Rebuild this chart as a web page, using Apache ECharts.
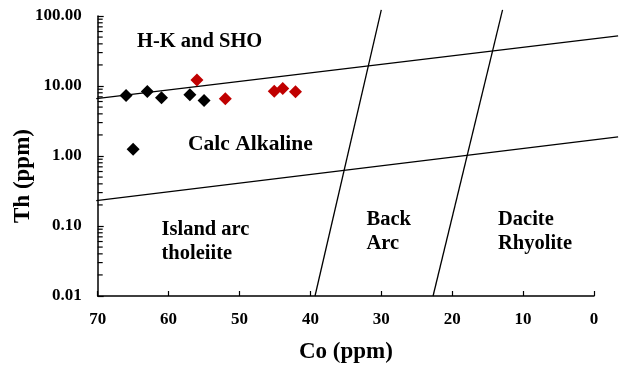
<!DOCTYPE html>
<html>
<head>
<meta charset="utf-8">
<script src="https://cdn.jsdelivr.net/npm/echarts@6/dist/echarts.min.js"></script>
<style>html,body{margin:0;padding:0;background:#fff}#c{width:619px;height:369px}</style>
</head>
<body>
<div id="c"></div>
<script>
// ---- data ----
const xTicks = [70, 60, 50, 40, 30, 20, 10, 0];
const yTicks = [0.01, 0.1, 1, 10, 100];
const blackCo = [66.0, 63.0, 61.0, 57.0, 55.0, 65.0];
const blackTh = [7.3, 8.35, 6.8, 7.5, 6.2, 1.25];
const redCo = [56.0, 52.0, 45.1, 43.9, 42.1];
const redTh = [12.2, 6.6, 8.4, 9.2, 8.3];
// boundary lines [Co1, Th1, Co2, Th2]
const lineHK_CA = [70.2, 6.58, -3.4, 52.1];
const lineCA_IAT = [70.2, 0.231, -3.4, 1.87];
const lineCA_BA = [39.35, 0.01, 30.0, 122];
const lineBA_DR = [22.7, 0.01, 12.9, 122];
const regionLabels = ['H-K and SHO', 'Calc Alkaline', 'Island arc\ntholeiite', 'Back\nArc', 'Dacite\nRhyolite'];
const minorMultipliers = [2, 3, 4, 5, 6, 7, 8, 9];

const X_MIN = 0, X_MAX = 70;
const minorVals = [];
for (let i = 0; i < yTicks.length - 1; i++) {
  minorMultipliers.forEach(m => minorVals.push(yTicks[i] * m));
}
const boundaries = [lineHK_CA, lineCA_IAT, lineCA_BA, lineBA_DR];

const FONT = "'Liberation Serif', 'Times New Roman', serif";
const chart = echarts.init(document.getElementById('c'), null, {renderer: 'canvas'});

// x pixel by linear extrapolation from two in-range axis coords (axis may clamp)
function xPix(api, co) {
  const a = api.coord([X_MIN, 1])[0];
  const b = api.coord([X_MAX, 1])[0];
  return a + (co - X_MIN) * (b - a) / (X_MAX - X_MIN);
}
function yPix(api, th) {
  return api.coord([X_MAX / 2, th])[1];
}

const labelFont = 'bold 20.5px ' + FONT;

chart.setOption({
  animation: false,
  backgroundColor: '#fff',
  grid: {left: 97.7, right: 25, top: 16, bottom: 71.3, containLabel: false},
  xAxis: {
    type: 'value', inverse: true, min: X_MIN, max: X_MAX, interval: 10,
    splitLine: {show: false},
    axisLine: {lineStyle: {color: '#000', width: 1.5}},
    axisTick: {inside: true, length: 5, lineStyle: {color: '#000', width: 1.2}},
    axisLabel: {margin: 15, color: '#000', fontFamily: FONT, fontWeight: 'bold', fontSize: 17,
      formatter: v => xTicks.includes(v) ? String(v) : ''},
    name: 'Co (ppm)', nameLocation: 'middle', nameGap: 45,
    nameTextStyle: {color: '#000', fontFamily: FONT, fontWeight: 'bold', fontSize: 23}
  },
  yAxis: {
    type: 'log', logBase: 10, min: 0.01, max: 100,
    splitLine: {show: false},
    axisLine: {onZero: false, lineStyle: {color: '#000', width: 1.5}},
    axisTick: {inside: true, length: 6, lineStyle: {color: '#000', width: 1.2}},
    axisLabel: {margin: 16, color: '#000', fontFamily: FONT, fontWeight: 'bold', fontSize: 17,
      formatter: v => Number(v).toFixed(2)}
  },
  graphic: [
    {type: 'text', x: 23, y: 176, rotation: Math.PI / 2,
      style: {text: 'Th (ppm)', align: 'center', verticalAlign: 'middle', fill: '#000',
        font: "bold 23px " + FONT}},
    {type: 'text', x: 137, y: 41.5, style: {text: regionLabels[0], verticalAlign: 'middle', fill: '#000', font: labelFont}},
    {type: 'text', x: 188, y: 144, style: {text: regionLabels[1], verticalAlign: 'middle', fill: '#000', font: 'bold 21.5px ' + FONT}},
    {type: 'text', x: 161.5, y: 217, style: {text: regionLabels[2], verticalAlign: 'top', lineHeight: 24.5, fill: '#000', font: labelFont}},
    {type: 'text', x: 366.5, y: 208, style: {text: regionLabels[3], verticalAlign: 'top', lineHeight: 24, fill: '#000', font: labelFont}},
    {type: 'text', x: 498, y: 208, style: {text: regionLabels[4], verticalAlign: 'top', lineHeight: 24, fill: '#000', font: labelFont}}
  ],
  series: [
    {
      type: 'custom', silent: true, clip: false, z: 3,
      data: boundaries,
      renderItem: (params, api) => {
        return {type: 'line',
          shape: {x1: xPix(api, api.value(0)), y1: yPix(api, api.value(1)),
                  x2: xPix(api, api.value(2)), y2: yPix(api, api.value(3))},
          style: {stroke: '#000', lineWidth: 1.3}};
      },
      encode: {x: [0, 2], y: [1, 3]}
    },
    {
      type: 'custom', silent: true, clip: false, z: 4,
      data: minorVals.map(v => [X_MAX, v]),
      renderItem: (params, api) => {
        const p = api.coord([api.value(0), api.value(1)]);
        return {type: 'line', shape: {x1: p[0], y1: p[1], x2: p[0] + 5, y2: p[1]},
          style: {stroke: '#000', lineWidth: 1.2}};
      }
    },
    {type: 'scatter', symbol: 'diamond', symbolSize: 13, z: 5,
      itemStyle: {color: '#000', opacity: 1}, data: blackCo.map((c, i) => [c, blackTh[i]])},
    {type: 'scatter', symbol: 'diamond', symbolSize: 13, z: 5,
      itemStyle: {color: '#C00000', opacity: 1}, data: redCo.map((c, i) => [c, redTh[i]])}
  ]
});
</script>
</body>
</html>
